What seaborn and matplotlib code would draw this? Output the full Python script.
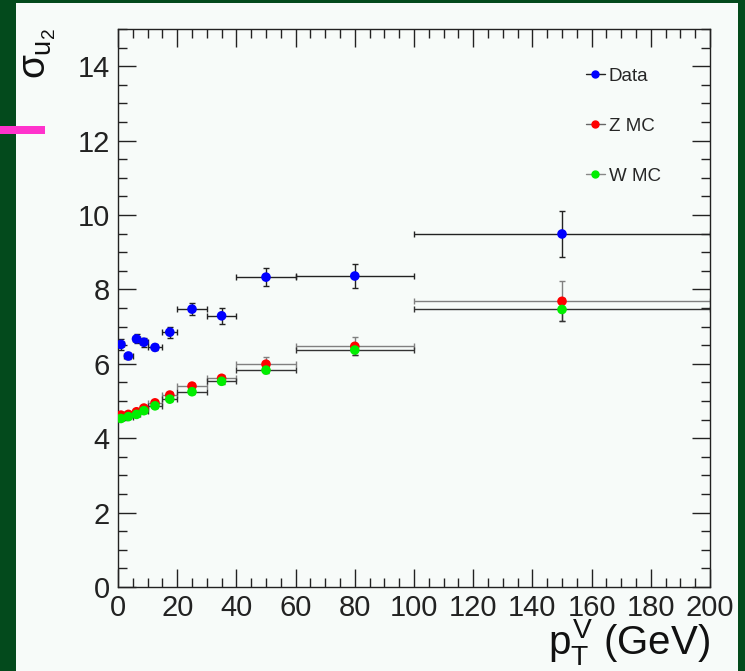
import numpy as np
import pandas as pd
import matplotlib
matplotlib.use("Agg")
import matplotlib.pyplot as plt
from matplotlib.patches import Rectangle
from matplotlib.lines import Line2D
from matplotlib.ticker import MultipleLocator
import seaborn as sns

# ---- data ----
pt_centers = [1.0, 3.5, 6.25, 8.75, 12.5, 17.5, 25, 35, 50, 80, 150]
pt_halfwidth = [1.0, 1.5, 1.25, 1.25, 2.5, 2.5, 5, 5, 10, 20, 50]
data_sigma = [6.52, 6.21, 6.67, 6.58, 6.44, 6.85, 7.47, 7.29, 8.33, 8.36, 9.49]
data_err = [0.15, 0.08, 0.12, 0.12, 0.08, 0.15, 0.16, 0.21, 0.25, 0.31, 0.61]
zmc_sigma = [4.62, 4.64, 4.71, 4.81, 4.95, 5.16, 5.40, 5.61, 5.99, 6.47, 7.68]
zmc_err = [0.08, 0.06, 0.06, 0.06, 0.07, 0.08, 0.08, 0.10, 0.18, 0.24, 0.54]
wmc_sigma = [4.53, 4.58, 4.64, 4.74, 4.87, 5.05, 5.25, 5.53, 5.83, 6.37, 7.46]
wmc_err = [0.05, 0.05, 0.05, 0.05, 0.05, 0.06, 0.06, 0.07, 0.08, 0.14, 0.32]
series_names = ["Data", "Z MC", "W MC"]
x_ticks = [0, 20, 40, 60, 80, 100, 120, 140, 160, 180, 200]
y_ticks = [0, 2, 4, 6, 8, 10, 12, 14]

sns.set_style("ticks")
plt.rcParams['font.family'] = ['Liberation Sans', 'DejaVu Sans']
plt.rcParams['mathtext.fontset'] = 'custom'
plt.rcParams['mathtext.rm'] = 'Liberation Sans'
plt.rcParams['mathtext.it'] = 'Liberation Sans'
plt.rcParams['mathtext.bf'] = 'Liberation Sans:bold'

W, H = 745, 671
fig = plt.figure(figsize=(W / 100, H / 100), dpi=100)
fig.patch.set_facecolor('#034a1c')

# background axes for the panel decorations
bg = fig.add_axes([0, 0, 1, 1], zorder=-10)
bg.set_xlim(0, W)
bg.set_ylim(H, 0)
bg.axis('off')
bg.add_patch(Rectangle((16, 3), 738 - 16, H - 3, facecolor='#f7fbf9', edgecolor='none'))
bg.add_patch(Rectangle((0, 126), 45, 8, facecolor='#ff33cc', edgecolor='none'))

ax = fig.add_axes([118 / W, 1 - 587 / H, (710 - 118) / W, (587 - 29) / H], zorder=5)
ax.set_facecolor('#f7fbf9')

colors = {"Data": "#0000ff", "Z MC": "#ff0000", "W MC": "#00ee00"}
ecolors = {"Data": "#222222", "Z MC": "#808080", "W MC": "#333333"}
leg_line = {"Data": "#222222", "Z MC": "#666666", "W MC": "#888888"}
ys = {"Data": (data_sigma, data_err), "Z MC": (zmc_sigma, zmc_err), "W MC": (wmc_sigma, wmc_err)}

rows = []
for name in series_names:
    vals, errs = ys[name]
    ax.errorbar(pt_centers, vals, xerr=pt_halfwidth, yerr=errs, fmt='none',
                ecolor=ecolors[name], elinewidth=1.0, capsize=2.3, capthick=1.0, zorder=2)
    for xv, yv in zip(pt_centers, vals):
        rows.append({"pt": xv, "sigma": yv, "series": name})
df = pd.DataFrame(rows)
sns.scatterplot(data=df, x="pt", y="sigma", hue="series", hue_order=series_names,
                palette=colors, s=48, edgecolor='none', linewidth=0, ax=ax,
                legend=False, zorder=3)

ax.set_xlim(0, 200)
ax.set_ylim(0, 15)
ax.set_xticks(x_ticks)
ax.set_yticks(y_ticks)
ax.set_xticklabels([str(t) for t in x_ticks])
ax.set_yticklabels([str(t) for t in y_ticks])
ax.xaxis.set_minor_locator(MultipleLocator(5))
ax.yaxis.set_minor_locator(MultipleLocator(0.5))
ax.tick_params(which='both', direction='in', top=True, right=True, colors='#222222',
               labelsize=21, width=1.0)
ax.tick_params(which='major', length=13, pad=5)
ax.tick_params(which='minor', length=6.5)
ax.tick_params(axis='y', pad=6)
ax.set_xlabel("")
ax.set_ylabel("")
for s in ax.spines.values():
    s.set_color('#222222')
    s.set_linewidth(1.0)
    s.set_visible(True)

handles = [Line2D([0], [0], color=leg_line[n], lw=1, marker='o', markersize=5,
                  markerfacecolor=colors[n], markeredgecolor=colors[n]) for n in series_names]
ax.legend(handles, series_names, loc='upper left', bbox_to_anchor=(0.778, 0.944),
          frameon=False, fontsize=13.5, handlelength=1.0, handletextpad=0.2,
          labelspacing=1.75, borderaxespad=0)

fig.text(0.054, 1 - 28 / H, r'$\sigma_{u_2}$', rotation=90, ha='center', va='top',
         fontsize=28, color='#111111')
fig.text(710 / W, 1 - 654 / H, r'$p_{T}^{V}$ (GeV)', ha='right', va='baseline',
         fontsize=29, color='#111111')

fig.savefig('out.png', dpi=100, facecolor=fig.get_facecolor())
